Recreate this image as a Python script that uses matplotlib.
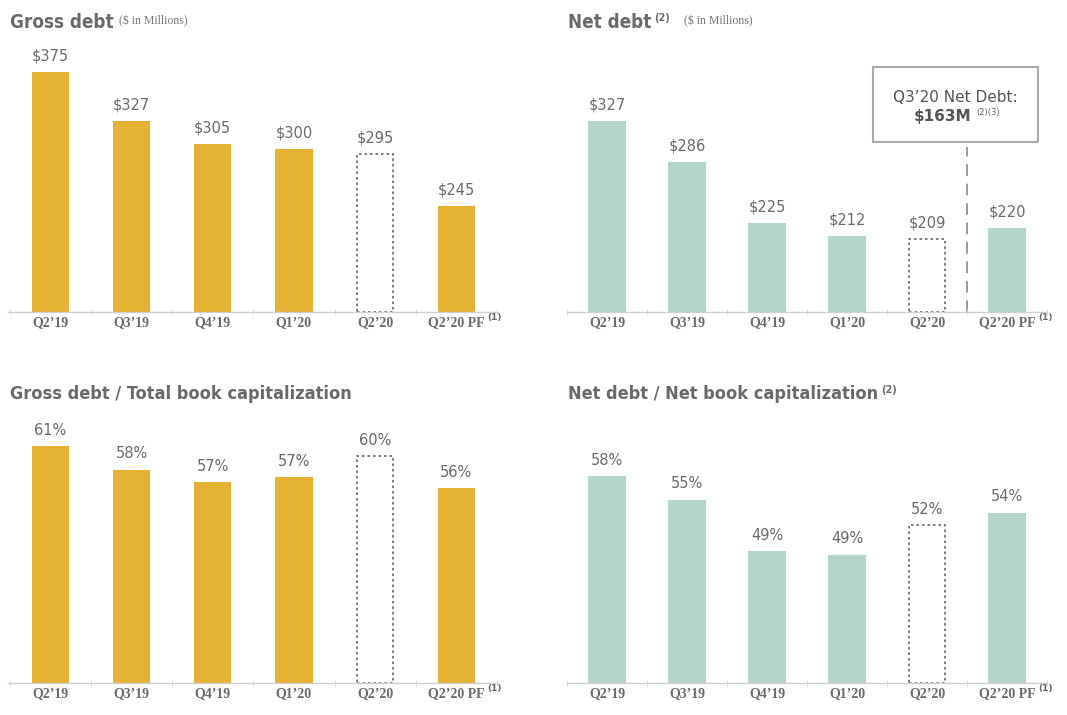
import matplotlib
matplotlib.use("Agg")
import matplotlib.pyplot as plt
from matplotlib.patches import Rectangle

# ---------------- data ----------------
quarters = ["Q2’19", "Q3’19", "Q4’19", "Q1’20", "Q2’20", "Q2’20 PF"]
gross_debt = [375, 327, 305, 300, 295, 245]
net_debt = [327, 286, 225, 212, 209, 220]
gross_cap_pct = [61.0, 58.1, 56.6, 57.2, 59.8, 55.9]
net_cap_pct = [58.0, 55.2, 49.2, 48.8, 52.2, 53.7]
dashed_index = 4          # Q2'20 drawn as outline bar
q3_net_debt_text = "$163M"

GOLD = "#E5B233"
TEAL = "#B6D5CA"
GREY = "#6a6a6a"

W, H = 1067, 715
fig = plt.figure(figsize=(W / 100, H / 100), dpi=100)
renderer = fig.canvas.get_renderer()


def px_axes(left, right, top, bottom):
    return fig.add_axes([left / W, 1 - bottom / H, (right - left) / W, (bottom - top) / H])


def draw_panel(ax, values, labels, color, ylim, xlim, width):
    x = list(range(len(values)))
    for i, v in enumerate(values):
        if i == dashed_index:
            ax.bar(i, v - ylim[0], bottom=ylim[0], width=width * 0.95, facecolor="white",
                   edgecolor="#666666", linewidth=1.2, linestyle=(0, (1.5, 1.8)), zorder=2)
        else:
            ax.bar(i, v - ylim[0], bottom=ylim[0], width=width, color=color, zorder=2)
        ax.annotate(labels[i], (i, v), xytext=(0, 6), textcoords="offset points",
                    ha="center", va="bottom", fontsize=10.5, color=GREY,
                    family="DejaVu Sans")
    ax.set_ylim(*ylim)
    ax.set_xlim(*xlim)
    for s in ["top", "right", "left"]:
        ax.spines[s].set_visible(False)
    ax.spines["bottom"].set_color("#cfcfcf")
    ax.spines["bottom"].set_linewidth(1.0)
    ax.set_yticks([])
    ax.set_xticks(x)
    ax.set_xticklabels(quarters, family="Liberation Serif", fontweight="bold", fontsize=10,
                       color=GREY)
    ax.tick_params(axis="x", length=0, pad=3)
    ax.set_xticks([i + 0.5 for i in range(-1, len(values))], minor=True)
    ax.tick_params(axis="x", which="minor", length=4, direction="inout", color="#d5d5d5")
    ax.patch.set_alpha(0)


axes = []
# top-left: gross debt
ax1 = px_axes(8, 497, 40, 312)
draw_panel(ax1, gross_debt, [f"${v}" for v in gross_debt], GOLD,
           (142, 142 + 272 / 1.031), (-0.52, 5.43), 0.46)

# top-right: net debt
ax2 = px_axes(567, 1047, 40, 312)
draw_panel(ax2, net_debt, [f"${v}" for v in net_debt], TEAL,
           (136, 136 + 272 / 1.0), (-0.46, 5.35), 0.47)

# bottom-left
ax3 = px_axes(8, 497, 410, 683)
draw_panel(ax3, gross_cap_pct, [f"{round(v)}%" for v in gross_cap_pct], GOLD,
           (32.1, 32.1 + 273 / 8.2), (-0.52, 5.43), 0.46)

# bottom-right
ax4 = px_axes(567, 1047, 410, 683)
draw_panel(ax4, net_cap_pct, [f"{round(v)}%" for v in net_cap_pct], TEAL,
           (33.8, 33.8 + 273 / 8.56), (-0.46, 5.35), 0.47)

# superscript (1) after the PF tick label
fig.canvas.draw()
for ax in (ax1, ax2, ax3, ax4):
    lab = ax.get_xticklabels()[-1]
    b = lab.get_window_extent(renderer)
    fig.text((b.x1 + 3) / W, (b.y1 - 1) / H, "(1)", fontsize=6.5, fontweight="bold",
             color=GREY, family="DejaVu Sans", ha="left", va="center")

# dashed divider in net debt panel
ax2.plot([4.5, 4.5], [ax2.get_ylim()[0], ax2.get_ylim()[0] + (312 - 147)],
         color="#9a9a9a", lw=1.4, ls=(0, (6, 4)), zorder=1)

# callout box
fig.patches.append(Rectangle((873 / W, 1 - 142 / H), (1038 - 873) / W, (142 - 67) / H,
                             transform=fig.transFigure, facecolor="white",
                             edgecolor="#aaaaaa", linewidth=1.5))
fig.text(955 / W, 1 - 97 / H, "Q3’20 Net Debt:", ha="center", va="center",
         fontsize=11, color="#555555", family="DejaVu Sans")
t163 = fig.text(943 / W, 1 - 117 / H, q3_net_debt_text, ha="center", va="center",
                fontsize=11, color="#555555", family="DejaVu Sans", fontweight="bold")
bb = t163.get_window_extent(renderer)
fig.text((bb.x1 + 4) / W, 1 - 113 / H, "(2)(3)", ha="left", va="center",
         fontsize=6, color="#666666", family="DejaVu Sans")

# titles
tkw = dict(color=GREY, family="DejaVu Sans", fontweight="bold", fontstretch="condensed",
           va="center", ha="left")


def title(x, y, s, sup=None, sub=None, size=13.5):
    t = fig.text(x / W, 1 - y / H, s, fontsize=size, **tkw)
    b = t.get_window_extent(renderer)
    xe = b.x1
    if sup:
        ts = fig.text((xe + 3) / W, 1 - (y - 4) / H, sup, fontsize=7, color=GREY,
                      family="DejaVu Sans", fontweight="bold", va="center", ha="left")
        xe = ts.get_window_extent(renderer).x1
    if sub:
        fig.text((xe + (14 if sup else 5)) / W, 1 - (y - 1) / H, sub, fontsize=8.5,
                 color="#777777", family="Liberation Serif", va="center", ha="left")


title(10, 22, "Gross debt", sub="($ in Millions)")
title(568, 22, "Net debt", sup="(2)", sub="($ in Millions)")
title(10, 394, "Gross debt / Total book capitalization", size=13)
title(568, 394, "Net debt / Net book capitalization", sup="(2)", size=13)

fig.savefig("out.png", dpi=100, facecolor="white")
